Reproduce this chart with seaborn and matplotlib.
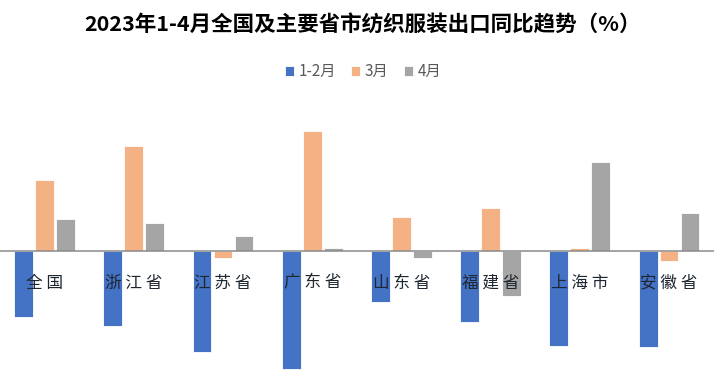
import matplotlib.pyplot as plt
import seaborn as sns
import pandas as pd

# 各地区纺织服装出口同比 (%)
regions = ['全国', '浙江省', '江苏省', '广东省', '山东省', '福建省', '上海市', '安徽省']
periods = ['1-2月', '3月', '4月']
jan_feb = [-17.2, -19.4, -26.3, -30.7, -13.3, -18.4, -24.6, -24.9]
march = [18.5, 27.5, -1.8, 31.3, 8.9, 11.2, 0.9, -2.6]
april = [8.5, 7.3, 4.0, 0.9, -1.6, -11.6, 23.3, 10.0]
colors = ['#4472C4', '#F4B183', '#A5A5A5']

df = pd.DataFrame({
    'region': regions * 3,
    'period': [p for p in periods for _ in regions],
    'value': jan_feb + march + april,
})

sns.set_theme(style='white')
plt.rcParams['font.family'] = ['Noto Sans CJK SC', 'DejaVu Sans']

fig = plt.figure(figsize=(7.26, 3.78), dpi=100)
ax = fig.add_axes([0.0, 0.0, 0.983, 0.735])

sns.barplot(data=df, x='region', y='value', hue='period', order=regions,
            hue_order=periods, palette=colors, saturation=1, width=0.705,
            gap=0.1, edgecolor='white', linewidth=0.6, ax=ax)

ax.axhline(0, color='#8a8a8a', linewidth=1.1)
ax.set_ylim(-33.0, 39.4)
ax.set_xlim(-0.5, len(regions) - 0.5)
ax.set_xticks([])
ax.set_yticks([])
ax.set_xlabel('')
ax.set_ylabel('')
for s in ax.spines.values():
    s.set_visible(False)

# category labels sit inside the plot, just below the zero line
for i, name in enumerate(regions):
    ax.text(i, -8.3, ' '.join(name), ha='center', va='center',
            fontsize=12, fontweight='medium', color='#1e2630')

handles, labels = ax.get_legend_handles_labels()
ax.get_legend().remove()
fig.legend(handles, labels, loc='center', bbox_to_anchor=(0.5, 0.81), ncol=3,
           frameon=False, fontsize=11, handlelength=0.6, handleheight=0.6,
           handletextpad=0.3, columnspacing=1.0, labelcolor='#595959')

fig.text(0.5, 0.935, '2023年1-4月全国及主要省市纺织服装出口同比趋势（%）',
         ha='center', va='center', fontsize=15.5, fontweight='bold', color='black')

fig.savefig('out.png', dpi=100)
plt.close(fig)
